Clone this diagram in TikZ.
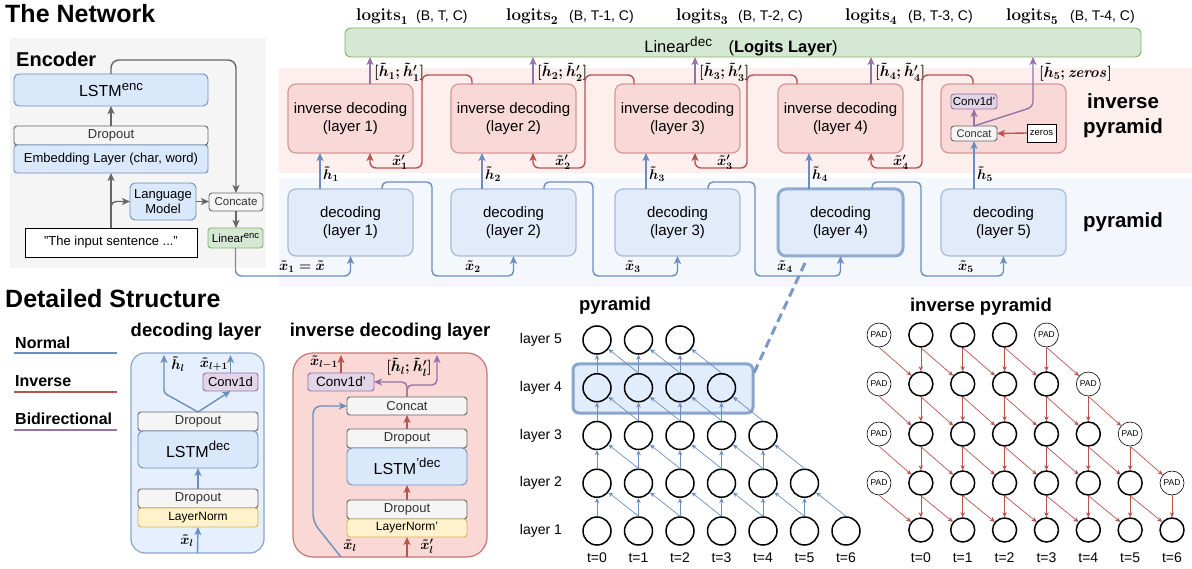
\RequirePackage{fix-cm}
\documentclass[tikz,border=0pt]{standalone}
\usepackage{amsmath,bm}
\usepackage[no-math]{fontspec}
\setmainfont{Liberation Sans}
\usetikzlibrary{arrows.meta,calc}
\newcommand\fsz[2]{\fontsize{#1}{#2}\selectfont}
\newcommand\hsup[1]{\raisebox{0.42em}{\scalebox{0.82}{#1}}}
\newcommand\bx[7]{\node[#2,anchor=north west,minimum width={(#5)-(#3)},minimum height={(#6)-(#4)}] (#1) at (#3,#4) {#7};}
\definecolor{bF}{HTML}{DAE8FC}\definecolor{bL}{HTML}{6C8EBF}
\definecolor{rF}{HTML}{F8CECC}\definecolor{rL}{HTML}{B85450}
\definecolor{gF}{HTML}{D5E8D4}\definecolor{gL}{HTML}{82B366}
\definecolor{pF}{HTML}{E1D5E7}\definecolor{pL}{HTML}{9673A6}
\definecolor{grF}{HTML}{F5F5F5}\definecolor{grL}{HTML}{666666}
\definecolor{yF}{HTML}{FFF2CC}\definecolor{yL}{HTML}{D6B656}
\definecolor{encBG}{HTML}{F5F5F5}
\definecolor{pinkBand}{HTML}{FCEFEE}
\definecolor{blueBand}{HTML}{F4F8FD}
\definecolor{decF}{HTML}{E2EBF9}
\definecolor{invF}{HTML}{F9D9D8}
\definecolor{txtG}{HTML}{333333}
\tikzset{
  base/.style={inner sep=0pt,outer sep=0pt,align=center,line width=0.9pt,rounded corners=3pt},
  bluebox/.style={base,fill=bF,draw=bL},
  graybox/.style={base,fill=grF,draw=grL,text=txtG},
  greenbox/.style={base,fill=gF,draw=gL},
  purplebox/.style={base,fill=pF,draw=pL},
  yellowbox/.style={base,fill=yF,draw=yL},
  decbox/.style={base,fill=decF,draw=bL!60,line width=1.2pt,rounded corners=8pt,font=\fsz{15}{18}},
  invbox/.style={base,fill=invF,draw=rL!60,line width=1.2pt,rounded corners=8pt,font=\fsz{15}{18}},
  blueC/.style={draw=bL,line width=1.4pt,rounded corners=6pt,-{Stealth[length=8pt,width=7pt,inset=2pt]}},
  redC/.style={draw=rL,line width=1.4pt,rounded corners=6pt,-{Stealth[length=8pt,width=7pt,inset=2pt]}},
  pC/.style={draw=pL,line width=1.4pt,rounded corners=6pt,-{Stealth[length=8pt,width=7pt,inset=2pt]}},
  grayC/.style={draw=grL,line width=1.4pt,-{Stealth[length=8pt,width=7pt,inset=2pt]}},
  pyA/.style={draw=bL,line width=0.7pt,-{Stealth[length=5pt,width=4.5pt]}},
  ipA/.style={draw=rL,line width=0.7pt,-{Stealth[length=5pt,width=4.5pt]}},
  pc/.style={circle,draw=black,line width=1.5pt,minimum size=28pt,inner sep=0pt},
  qc/.style={circle,draw=black,line width=1.5pt,minimum size=24pt,inner sep=0pt},
  padc/.style={circle,draw=black,line width=0.6pt,minimum size=24pt,inner sep=0pt,fill=white,font=\fsz{8.5}{10}},
  mlab/.style={inner sep=0pt,font=\fsz{14}{16}\boldmath},
  blab/.style={inner sep=0pt,font=\fsz{15}{17}\boldmath},
  btitle/.style={inner sep=0pt,font=\fsz{18.5}{22}\bfseries},
}
\begin{document}
\begin{tikzpicture}[x=1pt,y=-1pt]
\useasboundingbox (0,0) rectangle (1192,569);
% ---------------- titles
\node[anchor=base west,inner sep=0pt,font=\fsz{25}{30}\bfseries] (tnet) at (5,23) {The Network};
\node[anchor=base west,inner sep=0pt,font=\fsz{25}{30}\bfseries] (tdet) at (5,308) {Detailed Structure};
% ---------------- encoder
\fill[encBG] (10,38) rectangle (266,268);
\node[anchor=west,inner sep=0pt,font=\fsz{20}{24}\bfseries] (enct) at (16,59) {Encoder};
\bx{lstmenc}{bluebox,rounded corners=5pt,font=\fsz{16}{19}}{14}{74}{208}{106}{LSTM\hsup{enc}}
\bx{encdrop}{graybox,font=\fsz{13}{15}}{14}{126}{208}{145}{Dropout}
\bx{emb}{bluebox,font=\fsz{13}{15}}{14}{145}{208}{173}{Embedding Layer (char, word)}
\bx{lm}{bluebox,rounded corners=5pt,font=\fsz{13}{15}}{130}{183}{196}{220}{Language\\Model}
\bx{conc}{graybox,font=\fsz{11.5}{13}}{209}{193}{263}{211}{Concate}
\bx{linenc}{greenbox,font=\fsz{11.5}{14}}{208}{228}{263}{248}{Linear\hsup{enc}}
\bx{inp}{base,rounded corners=0pt,draw=black,fill=white,font=\fsz{13}{15}}{25}{228}{197}{257}{"The input sentence ..."}
\draw[grayC] (inp.north) -- (emb.south);
\draw[grayC] (encdrop.north) -- (lstmenc.south);
\draw[grayC,rounded corners=5pt] ($(inp.north)+(0,-14)$) |- (lm.west);
\draw[grayC] (lm.east) -- (lm.east -| conc.west);
\draw[grayC,rounded corners=8pt] (lstmenc.north) -- ++(0,-14) -| (conc.north);
\draw[grayC] (conc.south) -- (conc.south |- linenc.north);
% ---------------- bands
\fill[pinkBand] (279,68) rectangle (1192,173);
\fill[blueBand] (279,178) rectangle (1192,287);
% ---------------- linear dec + logits
\bx{lindec}{greenbox,rounded corners=6pt}{345}{28}{1141}{57}{}
\node[anchor=base,inner sep=0pt,font=\fsz{16.5}{19}] (lintxt) at (741,53) {Linear\hsup{dec}\quad(\textbf{Logits Layer})};
\foreach \i/\xl/\xs/\sh in {1/356/416/T,2/506/569/T-1,3/676/738/T-2,4/845/908/T-3,5/1006/1070/T-4}{
  \node[anchor=base west,inner sep=0pt,font=\fsz{17}{20}\boldmath] (lg\i) at (\xl,21) {$\mathbf{logits}_{\i}$};
  \node[anchor=base west,inner sep=0pt,font=\fsz{14}{16}] (sh\i) at (\xs,21) {(B, \sh, C)};
}
% ---------------- decoding / inverse decoding boxes
\foreach \i/\L in {1/288,2/451,3/615,4/778,5/941}{
  \bx{dec\i}{decbox}{\L}{189}{\L+125}{256}{decoding\\(layer \i)}
}
\foreach \i/\L in {1/288,2/451,3/615,4/778}{
  \bx{inv\i}{invbox}{\L}{84}{\L+125}{153}{inverse decoding\\(layer \i)}
}
\bx{inv5}{invbox}{941}{84}{1066}{153}{}
\draw[draw=bL!75,line width=3pt,rounded corners=8pt] (dec4.south west) rectangle (dec4.north east);
% inner of inverse box 5
\bx{cv5}{purplebox,font=\fsz{11.5}{13}}{951}{94}{997}{109}{Conv1d'}
\bx{cc5}{graybox,font=\fsz{11}{13}}{951}{126}{997}{141}{Concat}
\bx{zr5}{base,rounded corners=0pt,draw=black,fill=white,font=\fsz{9.5}{11}}{1027}{124}{1056}{142}{zeros}
\draw[redC] (zr5.west) -- (cc5.east);
\draw[pC] (cc5.north) -- (cv5.south);
\draw[pC,rounded corners=5pt] (cc5.north) -- (1033,107) -- (lindec.south -| 1033,0);
\node[anchor=west,blab] (lb5) at (1039,72) {$[\tilde{h}_5;\mathit{zeros}]$};
% purple outputs
\foreach \i/\xa in {1/370,2/533,3/695,4/871}{
  \draw[pC] (inv\i.north -| \xa,0) -- (lindec.south -| \xa,0);
  \node[anchor=west,blab] (lb\i) at (\xa+4,72) {$[\tilde{h}_{\i};{\tilde{h}'}_{\i}]$};
}
% red inverse connectors
\foreach \i/\j/\xt/\xv/\xi in {2/1/472/422/370,3/2/634/585/533,4/3/797/747/695,5/4/973/922/871}{
  \draw[redC] (inv\i.north -| \xt,0) -- (\xt,75) -- (\xv,75) -- (\xv,168) -- (\xi,168) -- (inv\j.south -| \xi,0);
  \node[mlab] (xp\j) at (\xi+30,162) {$\tilde{x}'_{\j}$};
}
% blue decoding connectors
\draw[blueC] (linenc.south) |- (dec1.south |- 0,276) -- (dec1.south);
\node[mlab] (x1) at (302,267) {$\tilde{x}_1=\tilde{x}$};
\foreach \i/\j/\xt/\xv/\xl in {1/2/382/432/473,2/3/544/593/633,3/4/708/755/785,4/5/872/921/966}{
  \draw[blueC,rounded corners=5pt] (dec\i.north -| \xt,0) -- (\xt,182) -- (\xv,182) -- (\xv,276) -- (dec\j.south |- 0,276) -- (dec\j.south);
  \node[mlab] (xx\j) at (\xl,267) {$\tilde{x}_{\j}$};
}
% h arrows
\foreach \i/\xh in {1/320,2/482,3/646,4/809}{
  \draw[blueC] (dec\i.north -| \xh,0) -- (inv\i.south -| \xh,0);
  \node[anchor=west,mlab] (hh\i) at (\xh+3,174) {$\tilde{h}_{\i}$};
}
\draw[blueC] (dec5.north -| cc5.south) -- (cc5.south);
\node[anchor=west,mlab] (hh5) at (977,174) {$\tilde{h}_5$};
% right labels
\node[inner sep=0pt,align=center,font=\fsz{20.5}{25}\bfseries] (ipl) at (1123,116) {inverse\\pyramid};
\node[inner sep=0pt,font=\fsz{20.5}{25}\bfseries] (pyl) at (1123,222) {pyramid};
% ---------------- legend
\node[anchor=west,inner sep=0pt,font=\fsz{16}{19}\bfseries] (lgN) at (15,343) {Normal};
\draw[bL,line width=1.3pt] (14,353) -- (117,353);
\node[anchor=west,inner sep=0pt,font=\fsz{16}{19}\bfseries] (lgI) at (15,381) {Inverse};
\draw[rL,line width=1.3pt] (14,392) -- (117,392);
\node[anchor=west,inner sep=0pt,font=\fsz{16}{19}\bfseries] (lgB) at (15,419) {Bidirectional};
\draw[pL,line width=1.3pt] (14,430) -- (117,430);
% ---------------- decoding layer detail
\node[btitle] (tdl) at (196,332) {decoding layer};
\bx{dl}{base,fill=bF!70!white,draw=bL!80,line width=1.2pt,rounded corners=14pt}{131}{353}{264}{553}{}
\bx{ddr1}{graybox,font=\fsz{13}{15}}{138}{412}{258}{431}{Dropout}
\bx{dlstm}{bluebox,rounded corners=5pt,font=\fsz{16}{19}}{138}{431}{258}{468}{LSTM\hsup{dec}}
\bx{dconv}{purplebox,font=\fsz{13}{15}}{203}{373}{258}{391}{Conv1d}
\bx{ddr2}{graybox,font=\fsz{13}{15}}{138}{489}{258}{508}{Dropout}
\bx{dln}{yellowbox,font=\fsz{12}{14}}{138}{508}{258}{527}{LayerNorm}
\draw[blueC] (dl.south) -- (dln.south);
\draw[blueC] (ddr2.north) -- (dlstm.south);
\draw[blueC,rounded corners=3pt] (ddr1.north) -- (164,393) -- (164,355);
\draw[blueC] (ddr1.north) -- (dconv.south);
\draw[blueC] (dconv.north) -- (dconv.north |- 0,355);
\node[mlab] (dlh) at (178,364) {$\tilde{h}_l$};
\node[mlab] (dlx) at (214,364) {$\tilde{x}_{l+1}$};
\node[mlab] (dlxi) at (187,541) {$\tilde{x}_l$};
% ---------------- inverse decoding layer detail
\node[btitle] (tidl) at (390,332) {inverse decoding layer};
\bx{idl}{base,fill=rF!80!white,draw=rL!80,line width=1.2pt,rounded corners=20pt}{293}{353}{487}{557}{}
\bx{iconv}{purplebox,font=\fsz{13.5}{16}}{308}{373}{374}{391}{Conv1d'}
\bx{icc}{graybox,font=\fsz{13}{15}}{347}{397}{467}{415}{Concat}
\bx{idr1}{graybox,font=\fsz{13}{15}}{347}{429}{467}{448}{Dropout}
\bx{ilstm}{bluebox,rounded corners=5pt,font=\fsz{16}{19}}{347}{448}{467}{485}{LSTM\hsup{'dec}}
\bx{idr2}{graybox,font=\fsz{13}{15}}{347}{500}{467}{519}{Dropout}
\bx{iln}{yellowbox,font=\fsz{12}{14}}{347}{519}{467}{537}{LayerNorm'}
\draw[redC] (iln.south |- idl.south) -- (iln.south);
\draw[redC] (idr2.north) -- (ilstm.south);
\draw[redC] (idr1.north) -- (icc.south);
\draw[pC,rounded corners=5pt] (icc.north) |- (iconv.east);
\draw[pC,rounded corners=5pt] (icc.north) -- ++(0,-12) -| (437,355);
\draw[redC] (iconv.north) -- (iconv.north |- 0,355);
\draw[blueC,rounded corners=8pt] (341,557) -- (313,522) -- (313,406) -- (icc.west);
\node[mlab] (ixm) at (324,362) {$\tilde{x}_{l-1}$};
\node[blab] (ihh) at (409,367) {$[\tilde{h}_l;{\tilde{h}'}_l]$};
\node[mlab] (ixl) at (350,546) {$\tilde{x}_l$};
\node[mlab] (ixpl) at (427,546) {$\tilde{x}'_l$};
% ---------------- pyramid
\node[btitle] (tpy) at (615,306) {pyramid};
\bx{hl}{base,fill=bF,fill opacity=0.8,draw=bL!80,line width=3pt,rounded corners=6pt}{573}{364}{753}{413}{}
\coordinate (dsA) at (805,263);
\coordinate (dsB) at (753,375);
\draw[bL!90,line width=3pt,dash pattern=on 9pt off 5pt] (dsA) -- (dsB);
\foreach \k in {1,...,5}{
  \pgfmathsetmacro\yy{531-47.75*(\k-1)}
  \pgfmathtruncatemacro\cmax{7-\k}
  \node[font=\fsz{14}{16},inner sep=0pt] (ll\k) at (541,\yy) {layer \k};
  \foreach \c in {0,...,\cmax}{
    \node[pc] (p\k-\c) at ({597+41.5*\c},\yy) {};
  }
}
\foreach \k in {1,...,4}{
  \pgfmathtruncatemacro\cmax{6-\k}
  \pgfmathtruncatemacro\kk{\k+1}
  \foreach \c in {0,...,\cmax}{
    \pgfmathtruncatemacro\cc{\c+1}
    \draw[pyA] (p\k-\c.north) -- (p\kk-\c.south);
    \draw[pyA] (p\k-\cc.north) -- (p\kk-\c);
  }
}
\foreach \c in {0,...,6}{
  \node[font=\fsz{14}{16},inner sep=0pt] (tp\c) at ({597+41.5*\c},558) {t=\c};
}
% ---------------- inverse pyramid
\node[btitle] (tipy) at (981,307) {inverse pyramid};
\foreach \r/\yy in {0/335,1/384,2/434,3/483}{
  \node[padc] (q\r-0) at (879,\yy) {PAD};
  \pgfmathtruncatemacro\cmax{3+\r}
  \foreach \c in {1,...,\cmax}{
    \node[qc] (q\r-\c) at ({879+41.86*\c},\yy) {};
  }
  \pgfmathtruncatemacro\cp{4+\r}
  \node[padc] (q\r-\cp) at ({879+41.86*\cp},\yy) {PAD};
}
\foreach \c in {1,...,7}{
  \node[qc] (q4-\c) at ({879+41.86*\c},530) {};
}
\foreach \r in {0,...,3}{
  \pgfmathtruncatemacro\rr{\r+1}
  \pgfmathtruncatemacro\vmax{4+\r}
  \pgfmathtruncatemacro\dmax{min(4+\r,6)}
  \foreach \c in {1,...,\vmax}{
    \draw[ipA] (q\r-\c.south) -- (q\rr-\c.north);
  }
  \foreach \c in {0,...,\dmax}{
    \pgfmathtruncatemacro\cc{\c+1}
    \draw[ipA] (q\r-\c.south) -- (q\rr-\cc);
  }
}
\foreach \c in {0,...,6}{
  \node[font=\fsz{14}{16},inner sep=0pt] (tq\c) at ({879+41.86*(\c+1)},558) {t=\c};
}
\end{tikzpicture}
\end{document}
